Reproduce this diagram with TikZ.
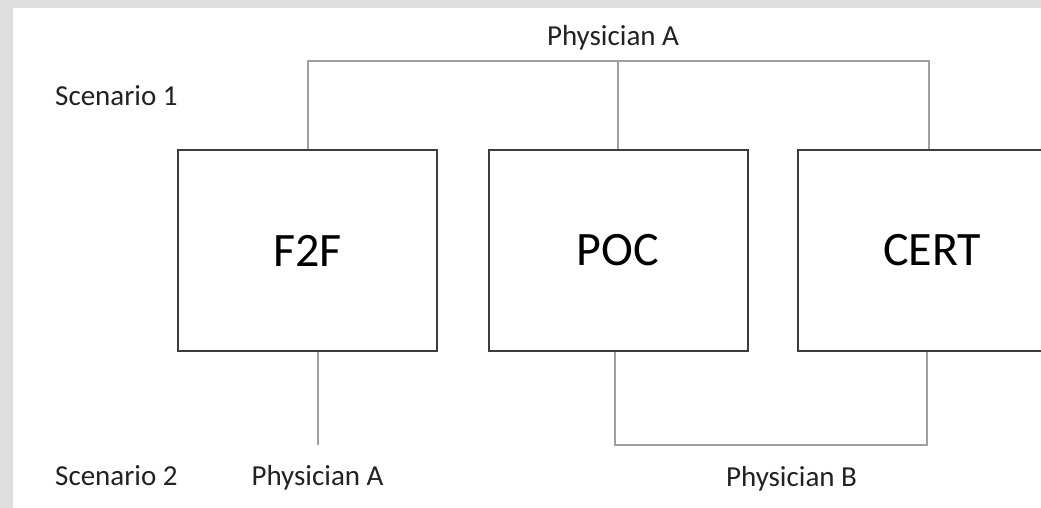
\documentclass[tikz,border=0pt]{standalone}
\usepackage{fontspec}
\setmainfont{Carlito}
\definecolor{frame}{HTML}{DEDEDE}
\definecolor{boxline}{HTML}{3C3C3C}
\definecolor{wire}{HTML}{A0A0A0}
\definecolor{ink}{HTML}{222222}
\begin{document}
\begin{tikzpicture}[x=1pt,y=-1pt,
  stage/.style={draw=boxline,line width=2pt,fill=white,minimum width=259pt,minimum height=201pt,
    inner sep=0pt,text=black,font=\fontsize{48}{56}\selectfont},
  lbl/.style={anchor=base,inner sep=0pt,text=ink,font=\fontsize{29}{34}\selectfont},
  link/.style={draw=wire,line width=1.3pt}]
\useasboundingbox (0,0) rectangle (1041,508);
\clip (0,0) rectangle (1041,508);
% page with grey margin on top and left
\fill[frame] (0,0) rectangle (1041,508);
\fill[white] (13,8) rectangle (1041,508);

% the three stages
\node[stage] (f2f) at (307.5,250.5) {F2F};
\node[stage] (poc) at (618,250.5) {POC};
\node[stage,minimum width=268pt] (cert) at (932,250.5) {CERT};

% labels
\node[lbl,anchor=base west] (sc1) at (55,106) {Scenario 1};
\node[lbl,anchor=base west] (sc2) at (55,485) {Scenario 2};
\node[lbl] (phA1) at (613,46) {Physician A};
\node[lbl] (phA2) at (317.5,485) {Physician A};
\node[lbl] (phB) at (791.5,486) {Physician B};

% scenario 1: one physician across all three
\coordinate (railL) at (308,61);
\coordinate (railR) at (929,61);
\draw[link] (f2f.north -| railL) -- (railL) -- (railR) -- (cert.north -| railR);
\draw[link] (poc.north) -- (poc.north |- railL);

% scenario 2: physician A for F2F, physician B for POC and CERT
\coordinate (dropA) at (318,445);
\draw[link] (f2f.south -| dropA) -- (dropA);
\coordinate (brL) at (615,445);
\coordinate (brR) at (927,445);
\draw[link] (poc.south -| brL) -- (brL) -- (brR) -- (cert.south -| brR);
\end{tikzpicture}
\end{document}
